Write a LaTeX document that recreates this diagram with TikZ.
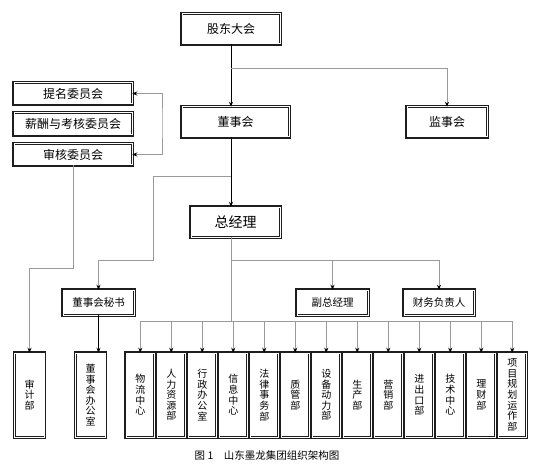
\documentclass[tikz,border=0pt]{standalone}
\usepackage{fontspec}
\setmainfont{Noto Sans CJK SC}
\usetikzlibrary{positioning, arrows.meta}
\definecolor{boxline}{HTML}{1E1E1E}
\definecolor{linegray}{HTML}{9A9A9A}

\begin{document}
\begin{tikzpicture}[
    x=1pt, y=-1pt,
    >={Stealth[length=5pt, width=4pt]},
    node distance=2.5pt,
    box/.style={preaction={draw=boxline, line width=3.8pt}, fill=white,
                draw=boxline, double=white, double distance=1pt, line width=0.5pt,
                inner sep=0pt, align=center},
    headbox/.style={box, minimum height=30pt, font=\fontsize{12}{14}\selectfont},
    cmtbox/.style={box, minimum width=118pt, minimum height=21pt, font=\fontsize{12}{14}\selectfont},
    midbox/.style={box, minimum width=71pt, minimum height=25pt, font=\fontsize{10.5}{12}\selectfont},
    deptbox/.style={box, minimum width=28pt, minimum height=84pt, font=\fontsize{10}{10.6}\selectfont},
    mainline/.style={draw=black, line width=0.7pt},
    subline/.style={draw=linegray, line width=0.6pt},
    darrow/.style={-{Stealth[length=5pt, width=4pt, color=black]}},
    darrows/.style={{Stealth[length=5pt, width=4pt, color=black]}-{Stealth[length=5pt, width=4pt, color=black]}},
]
\useasboundingbox (0,0) rectangle (537,470);

% Top levels
\node[headbox, minimum width=98pt] (gudong) at (231,29) {股东大会};
\node[headbox, minimum width=107pt] (dongshi) at (235.5,122) {董事会};
\node[headbox, minimum width=80pt] (jianshi) at (447,122) {监事会};
\node[headbox, minimum width=89pt, font=\fontsize{14}{16}\selectfont] (zongjingli) at (235.5,222) {总经理};

% Committees
\node[cmtbox] (timing) at (73,93.5) {提名委员会};
\node[cmtbox, minimum height=22pt] (xinchou) at (73,124) {薪酬与考核委员会};
\node[cmtbox] (shenhe) at (73,154.5) {审核委员会};

% Middle level
\node[midbox] (mishu) at (98.5,302.5) {董事会秘书};
\node[midbox] (fuzong) at (332.5,302.5) {副总经理};
\node[midbox, minimum width=70pt] (caiwu) at (439,302.5) {财务负责人};

% Departments
\node[deptbox, minimum width=30pt] (shenji) at (29.5,395) {审\\计\\部};
\node[deptbox, minimum width=30pt] (dongban) at (90.5,395) {董\\事\\会\\办\\公\\室};
\node[deptbox] (wuliu) at (140.25,395) {物\\流\\中\\心};
\node[deptbox, right=of wuliu] (renli) {人\\力\\资\\源\\部};
\node[deptbox, right=of renli] (xingzheng) {行\\政\\办\\公\\室};
\node[deptbox, right=of xingzheng] (xinxi) {信\\息\\中\\心};
\node[deptbox, right=of xinxi] (falv) {法\\律\\事\\务\\部};
\node[deptbox, right=of falv] (zhiguan) {质\\管\\部};
\node[deptbox, right=of zhiguan] (shebei) {设\\备\\动\\力\\部};
\node[deptbox, right=of shebei] (shengchan) {生\\产\\部};
\node[deptbox, right=of shengchan] (yingxiao) {营\\销\\部};
\node[deptbox, right=of yingxiao] (jinchukou) {进\\出\\口\\部};
\node[deptbox, right=of jinchukou] (jishu) {技\\术\\中\\心};
\node[deptbox, right=of jishu] (licai) {理\\财\\部};
\node[deptbox, right=of licai] (xiangmu) {项\\目\\规\\划\\运\\作\\部};

% Caption
\node[font=\fontsize{10.5}{12}\selectfont] (caption) at (267,455) {图 1\quad 山东墨龙集团组织架构图};

% Main line
\draw[mainline, ->] (gudong.south) -- (gudong.south |- dongshi.north);
\draw[mainline, ->] (gudong.south |- dongshi.south) -- (gudong.south |- zongjingli.north);
\coordinate (bus) at (231,321);
\draw[subline] (gudong.south |- zongjingli.south) -- (bus);

% Branches
\coordinate (fork1) at (231,68);
\draw[subline, darrow] (fork1) -| (jianshi.north);
\coordinate (cmt) at (162,123);
\draw[subline, darrows] (timing.east) -| (cmt) |- (shenhe.east);
\coordinate (fork2) at (231,176);
\coordinate (bend2) at (153,260);
\draw[subline, darrow] (fork2) -| (bend2) -| (mishu.north);
\coordinate (bend3) at (29.5,268);
\draw[subline, darrow] (shenhe.south) |- (bend3) -- (shenji.north);
\coordinate (fork3) at (231,260);
\draw[subline, darrow] (fork3) -| (fuzong.north);
\draw[subline, darrow] (fork3) -| (caiwu.north);
\draw[mainline, ->] (mishu.south) -- (mishu.south |- dongban.north);

% Department bus
\draw[subline] (bus -| wuliu.north) -- (bus -| xiangmu.north);
\draw[subline, darrow] (bus -| wuliu.north) -- (wuliu.north);
\draw[subline, darrow] (bus -| renli.north) -- (renli.north);
\draw[subline, darrow] (bus -| xingzheng.north) -- (xingzheng.north);
\draw[subline, darrow] (bus -| xinxi.north) -- (xinxi.north);
\draw[subline, darrow] (bus -| falv.north) -- (falv.north);
\draw[subline, darrow] (bus -| zhiguan.north) -- (zhiguan.north);
\draw[subline, darrow] (bus -| shebei.north) -- (shebei.north);
\draw[subline, darrow] (bus -| shengchan.north) -- (shengchan.north);
\draw[subline, darrow] (bus -| yingxiao.north) -- (yingxiao.north);
\draw[subline, darrow] (bus -| jinchukou.north) -- (jinchukou.north);
\draw[subline, darrow] (bus -| jishu.north) -- (jishu.north);
\draw[subline, darrow] (bus -| licai.north) -- (licai.north);
\draw[subline, darrow] (bus -| xiangmu.north) -- (xiangmu.north);

\end{tikzpicture}
\end{document}
